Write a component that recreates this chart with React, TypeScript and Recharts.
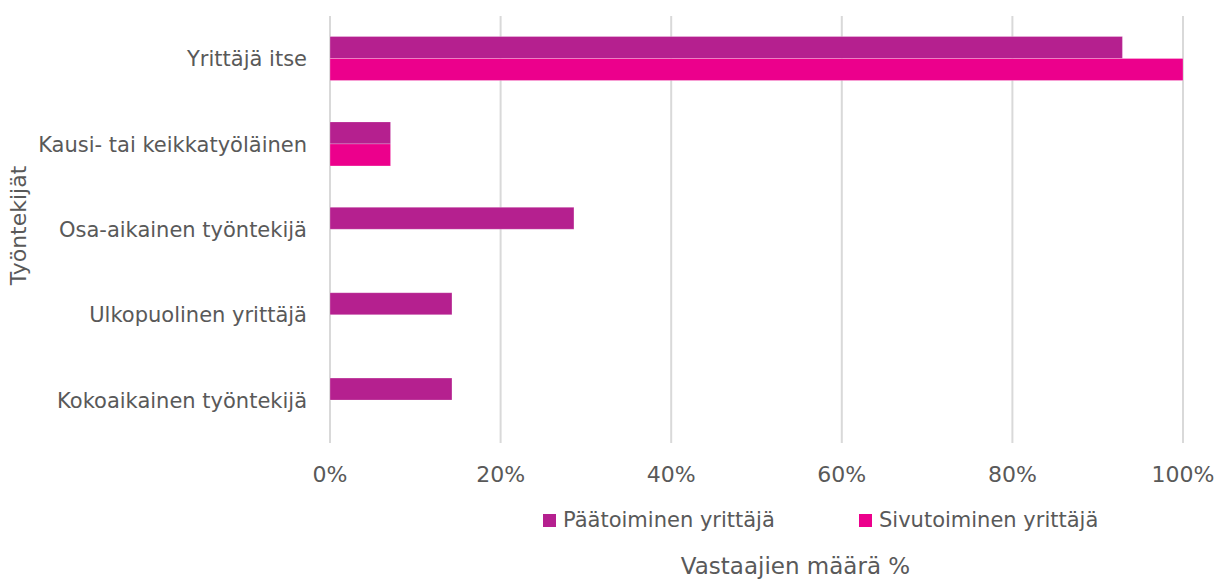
import React from 'react';
import { BarChart, Bar, XAxis, YAxis, CartesianGrid, Legend } from 'recharts';

const categories = [
  'Yrittäjä itse',
  'Kausi- tai keikkatyöläinen',
  'Osa-aikainen työntekijä',
  'Ulkopuolinen yrittäjä',
  'Kokoaikainen työntekijä',
];
const paatoiminen = [92.9, 7.1, 28.6, 14.3, 14.3];
const sivutoiminen = [100, 7.1, 0, 0, 0];
const xTicks = [0, 20, 40, 60, 80, 100];

const seriesNames = ['Päätoiminen yrittäjä', 'Sivutoiminen yrittäjä'];
const colors = ['#B5208F', '#EC008C'];

const data = categories.map((name, i) => ({
  name,
  p: paatoiminen[i],
  s: sivutoiminen[i],
}));

const FONT = '"DejaVu Sans", Verdana, sans-serif';
const TEXT = '#595959';

const LegendContent = (props: any) => {
  const payload = props.payload || [];
  return (
    <div style={{ display: 'flex', height: 40, alignItems: 'center', paddingLeft: 543, fontFamily: FONT, fontSize: 21, color: TEXT }}>
      {payload.map((item: any, i: number) => (
        <div key={i} style={{ width: 316, display: 'flex', alignItems: 'center' }}>
          <span style={{ display: 'inline-block', width: 13, height: 13, background: item.color, marginRight: 7 }} />
          <span>{item.value}</span>
        </div>
      ))}
    </div>
  );
};

export default function App() {
  return (
    <div style={{ position: 'absolute', left: 0, top: 0, background: '#fff' }}>
      <BarChart
        width={1217}
        height={579}
        data={data}
        layout="vertical"
        margin={{ top: 16, right: 34, bottom: 0, left: 0 }}
        barCategoryGap="24%"
        barGap={0}
      >
        <CartesianGrid horizontal={false} vertical stroke="#D9D9D9" strokeWidth={2} />
        <XAxis
          type="number"
          domain={[0, 100]}
          ticks={xTicks}
          tickFormatter={(v: number) => `${v}%`}
          axisLine={false}
          tickLine={false}
          tickSize={0}
          tickMargin={23}
          height={96}
          interval={0}
          tick={{ fill: TEXT, fontSize: 22, fontFamily: FONT }}
          label={{
            content: (p: any) => {
              const vb = p.viewBox || {};
              return (
                <text
                  x={vb.x + vb.width / 2 + 39}
                  y={vb.y + 131}
                  textAnchor="middle"
                  fill={TEXT}
                  fontSize={23}
                  fontFamily={FONT}
                >
                  Vastaajien määrä %
                </text>
              );
            },
          }}
        />
        <YAxis
          type="category"
          dataKey="name"
          width={330}
          axisLine={false}
          tickLine={false}
          tickSize={0}
          tickMargin={23}
          interval={0}
          tick={{ fill: TEXT, fontSize: 21, fontFamily: FONT }}
          label={{
            content: (p: any) => {
              const vb = p.viewBox || {};
              const cx = 26;
              const cy = vb.y + vb.height / 2 - 4;
              return (
                <text
                  x={cx}
                  y={cy}
                  transform={`rotate(-90 ${cx} ${cy})`}
                  textAnchor="middle"
                  fill={TEXT}
                  fontSize={22}
                  fontFamily={FONT}
                >
                  Työntekijät
                </text>
              );
            },
          }}
        />
        <Legend
          verticalAlign="bottom"
          content={<LegendContent />}
          wrapperStyle={{ left: 0, top: 500, width: 1217, height: 40 }}
        />
        <Bar dataKey="p" name={seriesNames[0]} fill={colors[0]} stroke="rgba(255,255,255,0.25)" strokeWidth={1} isAnimationActive={false} />
        <Bar dataKey="s" name={seriesNames[1]} fill={colors[1]} stroke="rgba(255,255,255,0.25)" strokeWidth={1} isAnimationActive={false} />
      </BarChart>
    </div>
  );
}
